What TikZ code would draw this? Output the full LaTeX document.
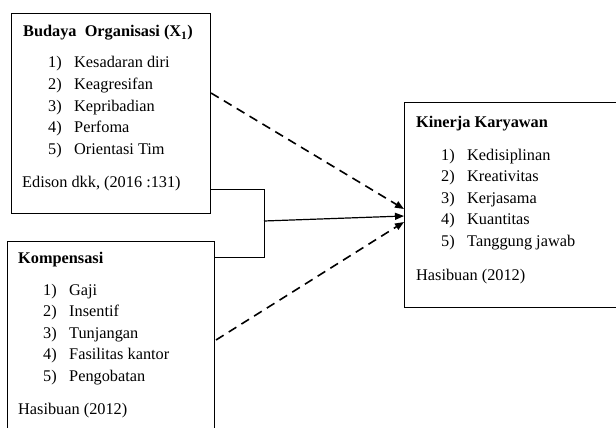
\documentclass[tikz,border=0pt]{standalone}
\usepackage{fontspec}
\setmainfont{Liberation Serif}
\usetikzlibrary{arrows.meta}
\begin{document}
\begin{tikzpicture}[x=1pt,y=-1pt,
  box/.style={draw, line width=1.1pt, inner sep=0pt, anchor=north west},
  txt/.style={anchor=base west, inner sep=0pt, font=\fontsize{16.3}{19}\selectfont},
  ttl/.style={txt, font=\fontsize{16.3}{19}\selectfont\bfseries},
  conn/.style={line width=1pt},
  dashconn/.style={line width=1.6pt, dash pattern=on 9pt off 6pt, -{Triangle[length=9pt,width=7pt]}},
  arr/.style={line width=1.2pt, -{Triangle[length=9pt,width=7pt]}}]
\useasboundingbox (0,0) rectangle (616,428);
\clip (0,0) rectangle (616,428);
\fill[white] (0,0) rectangle (616,428);
% boxes
\node[box, minimum width=199pt, minimum height=200pt] (b1) at (11,13) {};
\node[box, minimum width=207pt, minimum height=210pt] (b2) at (7,241) {};
\node[box, minimum width=240pt, minimum height=205pt] (b3) at (404,102) {};
% box 1 text
\node[ttl] (t1) at (23,37) {Budaya~ Organisasi (X\textsubscript{1})};
\node[txt] (n11) at (48,68) {1)};   \node[txt] (i11) at (74,68) {Kesadaran diri};
\node[txt] (n12) at (48,89.5) {2)}; \node[txt] (i12) at (74,89.5) {Keagresifan};
\node[txt] (n13) at (48,111) {3)};  \node[txt] (i13) at (74,111) {Kepribadian};
\node[txt] (n14) at (48,132.5) {4)};\node[txt] (i14) at (74,132.5) {Perfoma};
\node[txt] (n15) at (48,154) {5)};  \node[txt] (i15) at (74,154) {Orientasi Tim};
\node[txt] (s1) at (22,187) {Edison dkk, (2016 :131)};
% box 2 text
\node[ttl] (t2) at (18,263) {Kompensasi};
\node[txt] (n21) at (43,295) {1)};   \node[txt] (i21) at (69,295) {Gaji};
\node[txt] (n22) at (43,316.5) {2)}; \node[txt] (i22) at (69,316.5) {Insentif};
\node[txt] (n23) at (43,338) {3)};   \node[txt] (i23) at (69,338) {Tunjangan};
\node[txt] (n24) at (43,359.5) {4)}; \node[txt] (i24) at (69,359.5) {Fasilitas kantor};
\node[txt] (n25) at (43,381) {5)};   \node[txt] (i25) at (69,381) {Pengobatan};
\node[txt] (s2) at (18,414) {Hasibuan (2012)};
% box 3 text
\node[ttl] (t3) at (416,128) {Kinerja Karyawan};
\node[txt] (n31) at (441,160) {1)};   \node[txt] (i31) at (467,160) {Kedisiplinan};
\node[txt] (n32) at (441,181.5) {2)}; \node[txt] (i32) at (467,181.5) {Kreativitas};
\node[txt] (n33) at (441,203) {3)};   \node[txt] (i33) at (467,203) {Kerjasama};
\node[txt] (n34) at (441,224.5) {4)}; \node[txt] (i34) at (467,224.5) {Kuantitas};
\node[txt] (n35) at (441,246) {5)};   \node[txt] (i35) at (467,246) {Tanggung jawab};
\node[txt] (s3) at (416,280) {Hasibuan (2012)};
% connectors
\coordinate (j1) at (264,189);
\coordinate (j2) at (264,257);
\coordinate (j3) at (264,221);
\coordinate (d1) at (211,93);
\coordinate (d2) at (216,340);
\coordinate (e1) at (404,209);
\coordinate (e2) at (404,216);
\coordinate (e3) at (404,222);
\draw[conn] (b1.east |- j1) -- (j1) -- (j2) -- (b2.east |- j2);
\draw[arr] (j3) -- (e2);
\draw[dashconn] (d1) -- (e1);
\draw[dashconn] (d2) -- (e3);
\end{tikzpicture}
\end{document}
